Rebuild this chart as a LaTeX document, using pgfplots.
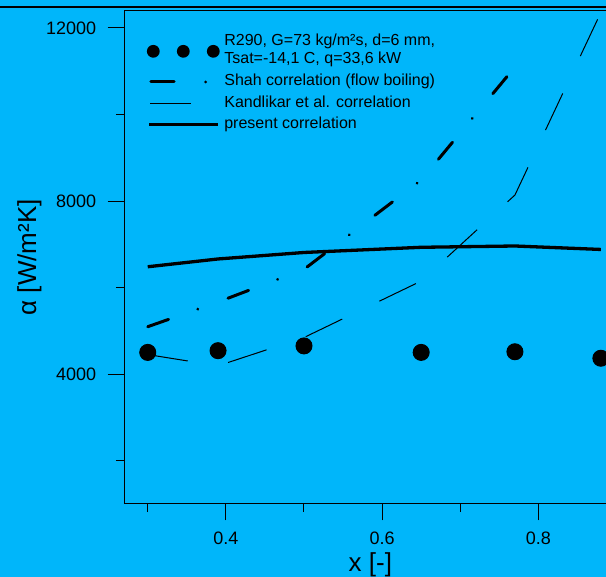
\documentclass[border=0pt]{standalone}
\usepackage{fontspec}
\setmainfont{Liberation Sans}
\usepackage{pgfplots}
\pgfplotsset{compat=1.18}
\definecolor{bgc}{RGB}{0,182,250}
\begin{document}
\begin{tikzpicture}
\fill[bgc] (0pt,0pt) rectangle (606pt,577pt);
\draw[line width=2pt] (0pt,570.2pt) -- (606pt,570.2pt);
\begin{axis}[
  at={(124.3pt,73.2pt)}, anchor=south west,
  scale only axis, width=492.2pt, height=493.1pt,
  xmin=0.27, xmax=0.9, ymin=1000, ymax=12400,
  scaled x ticks=false, scaled y ticks=false,
  axis line style={line width=1pt},
  tick pos=left, tick align=outside,
  major tick length=16.7pt, minor tick length=8.3pt,
  every tick/.style={black, line width=1pt},
  xtick={0.4,0.6,0.8}, xticklabels={0.4,0.6,0.8},
  minor xtick={0.3,0.5,0.7,0.9},
  ytick={4000,8000,12000}, yticklabels={4000,8000,12000},
  minor ytick={2000,6000,10000},
  /pgf/number format/assume math mode=true,
  tick label style={font=\fontsize{18}{20}\selectfont},
  xticklabel style={yshift=-8pt},
  yticklabel style={xshift=-8pt},
  xlabel={x [-]}, ylabel={α [W/m²K]},
  label style={font=\fontsize{26}{28}\selectfont},
  xlabel style={at={(axis description cs:0.5,-0.1231)}, anchor=center},
  ylabel style={at={(axis description cs:-0.193,0.5)}, anchor=center},
  legend cell align=left,
  legend style={draw=none, fill=none, inner sep=0pt, outer sep=0pt,
    at={(axis description cs:0.0441,0.9528)}, anchor=north west,
    font=\fontsize{16}{17.3}\selectfont,
    row sep=5.3pt, column sep=4.3pt,
    nodes={inner sep=0pt, outer sep=0pt, text height=12pt, text depth=4pt}},
]
\addlegendimage{legend image code/.code={
  \fill[black, draw=none] (7.3pt,0pt) circle (6.4pt) (37.3pt,0pt) circle (6.4pt) (67.3pt,0pt) circle (6.4pt);
  \path[draw=none, fill=none] (0pt,-3pt) rectangle (74pt,3pt);}}
\addlegendentry[text depth=22.7pt]{\begin{tabular}[t]{@{}l@{}}R290, G=73 kg/m²s, d=6 mm,\\Tsat=-14,1 C, q=33,6 kW\end{tabular}}
\addlegendimage{legend image code/.code={
  \draw[black, line width=3pt, line cap=round] (4.8pt,0pt) -- (28.2pt,0pt);
  \fill[black, draw=none] (59.7pt,0pt) circle (1.5pt);
  \path[draw=none, fill=none] (0pt,-3pt) rectangle (74pt,3pt);}}
\addlegendentry{Shah correlation (flow boiling)}
\addlegendimage{legend image code/.code={
  \draw[black, line width=1pt] (4pt,0pt) -- (44.7pt,0pt);
  \path[draw=none, fill=none] (0pt,-3pt) rectangle (74pt,3pt);}}
\addlegendentry{Kandlikar et al. correlation}
\addlegendimage{legend image code/.code={
  \draw[black, line width=3.5pt] (3.3pt,0pt) -- (72.3pt,0pt);
  \path[draw=none, fill=none] (0pt,-3pt) rectangle (74pt,3pt);}}
\addlegendentry{present correlation}

% Shah correlation
\addplot[forget plot, black, line width=3pt, line cap=round,
  dash pattern=on 22pt off 31pt on 0.01pt off 32.2pt]
  coordinates {(0.3,5094) (0.39,5665) (0.5,6420) (0.65,8485) (0.77,11098)};
% Kandlikar et al.
\addplot[forget plot, black, line width=1pt,
  dash pattern=on 40.5pt off 41.3pt]
  coordinates {(0.3,4450) (0.39,4190) (0.5,4844) (0.65,6150) (0.77,8138) (0.88,12360)};
% present correlation
\addplot[forget plot, black, line width=3.3pt]
  coordinates {(0.3,6480) (0.39,6660) (0.5,6810) (0.65,6930) (0.77,6960) (0.88,6880)};
% measurements
\addplot[forget plot, only marks, mark=*, mark size=8pt, black, line width=1pt]
  coordinates {(0.3,4500) (0.39,4540) (0.5,4650) (0.65,4500) (0.77,4515) (0.88,4365)};
\end{axis}
\pgfresetboundingbox
\useasboundingbox (0pt,0pt) rectangle (606pt,577pt);
\end{tikzpicture}
\end{document}
